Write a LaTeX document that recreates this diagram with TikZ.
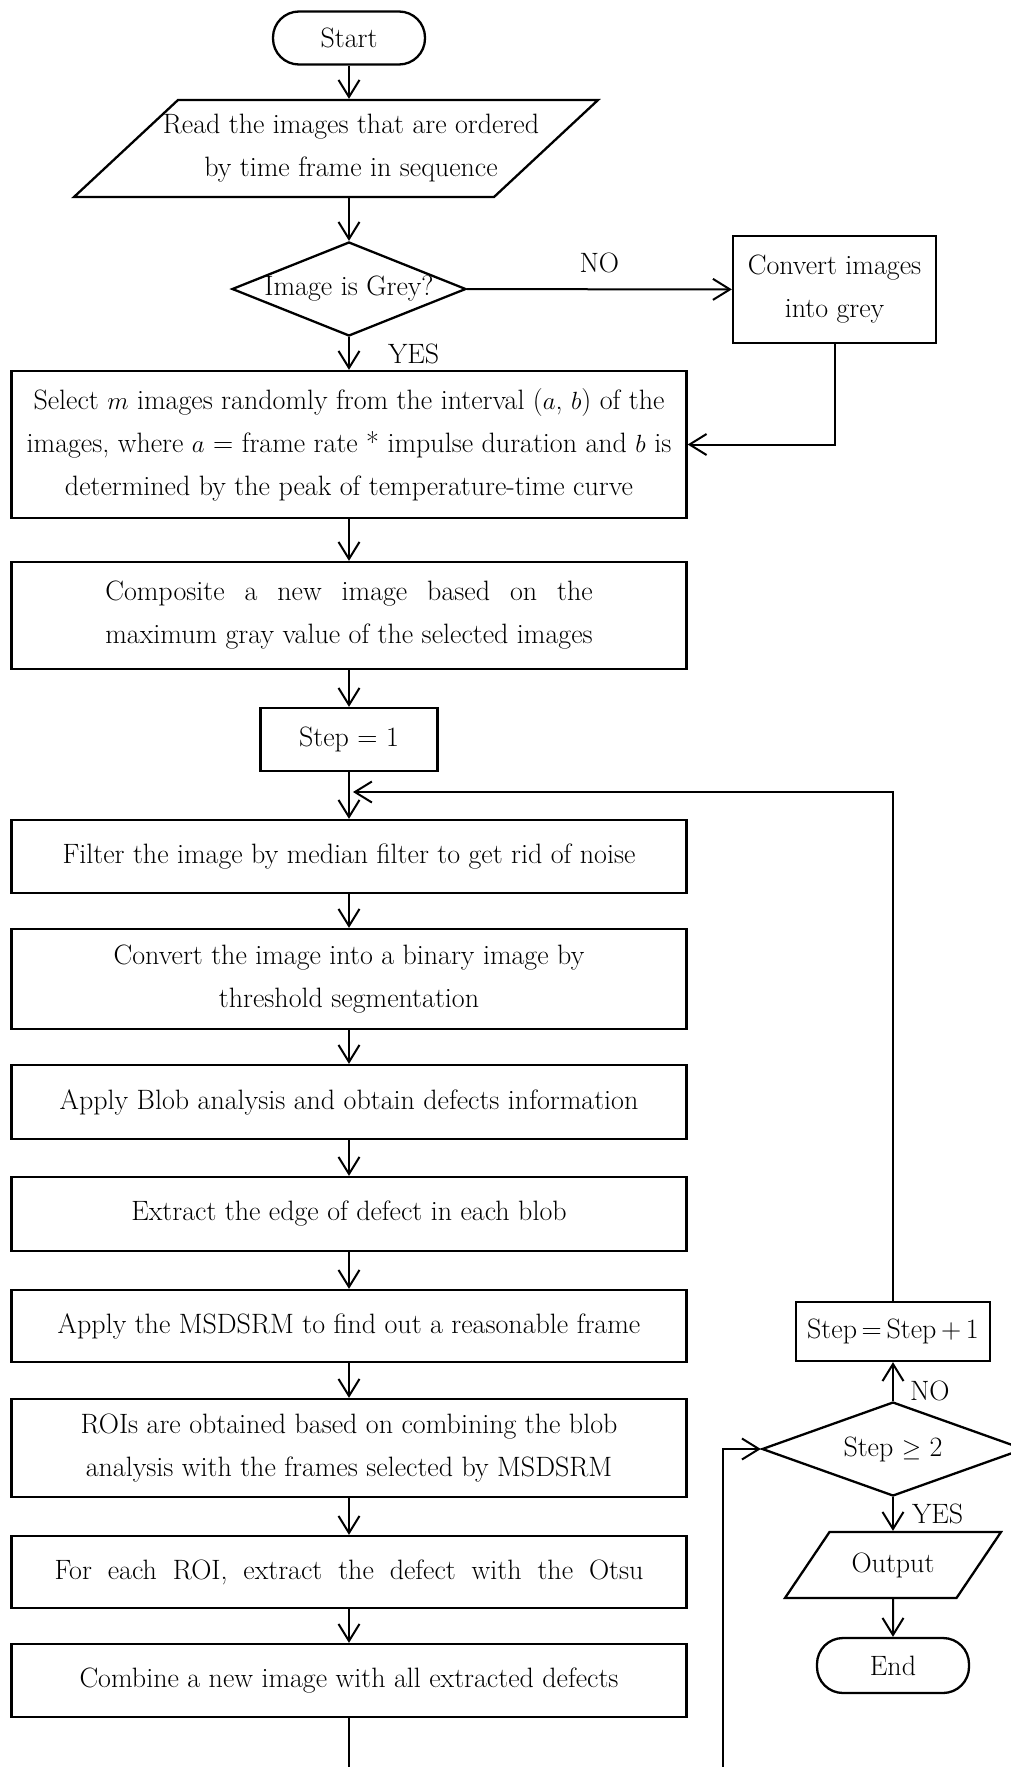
\documentclass[tikz,border=0pt]{standalone}
\usepackage{amsmath,amssymb}
\usetikzlibrary{arrows.meta,shapes.geometric,positioning}
\newcommand{\chartfont}{\fontsize{28}{43}\selectfont}
\newcommand{\iotext}[3]{\parbox[c][#1][c]{#2}{\centering #3}}
\newlength{\linewd}
\tikzset{
  flow/.style={-{Straight Barb[length=17pt,width=21pt]}, line width=2pt},
  procbox/.style={draw=black, line width=2.3pt, minimum width=675pt,
                  inner sep=0pt, align=center, font=\chartfont},
  smallbox/.style={procbox, minimum width=177pt},
  iobox/.style={draw=black, line width=2.3pt, trapezium,
                trapezium stretches body, inner sep=0pt, font=\chartfont},
  decision/.style={draw=black, line width=2.3pt, diamond,
                   inner sep=0pt, align=center, font=\chartfont},
  terminal/.style={draw=black, line width=2.3pt, rounded corners=26pt,
                   minimum width=152pt, inner sep=0pt, font=\chartfont},
  lab/.style={font=\chartfont, inner sep=0pt},
}

\begin{document}
\begin{tikzpicture}[x=1pt,y=-1pt]
  \path[use as bounding box] (0,0) rectangle (1011,1767);

  % Main column.
  \node[terminal, minimum height=53pt] (start) at (349,38) {Start};
  \node[iobox, trapezium left angle=43, trapezium right angle=137] (read) at (336,148.5)
    {\iotext{97pt}{316pt}{\makebox[316pt]{\hspace{30pt}Read the images that are ordered}\\
                          \makebox[316pt]{\hspace{30pt}by time frame in sequence}}};
  \node[decision, shape aspect=2.5, minimum width=234pt, minimum height=94pt]
    (grey) at (349,289) {Image is Grey?};
  \node[procbox, minimum width=203pt, minimum height=107pt] (convert) at (834.5,289.5)
    {Convert images\\into grey};
  \node[procbox, minimum height=147pt] (select) at (349,444.5)
    {Select $m$ images randomly from the interval ($a$, $b$) of the\\
     images, where $a$ = frame rate * impulse duration and $b$ is\\
     determined by the peak of temperature-time curve};
  \node[procbox, minimum height=107pt] (compose) at (349,615.5)
    {\settowidth{\linewd}{maximum gray value of the selected images}%
     \makebox[\linewd][s]{Composite a new image based on the}\\
     maximum gray value of the selected images};
  \node[smallbox, minimum height=63pt] (init) at (349,739.5) {Step = 1};
  \node[procbox, minimum height=73pt] (median) at (349,856.5)
    {Filter the image by median filter to get rid of noise};
  \node[procbox, minimum height=100pt] (binary) at (349,979)
    {Convert the image into a binary image by\\threshold segmentation};
  \node[procbox, minimum height=74pt] (blob) at (349,1102)
    {Apply Blob analysis and obtain defects information};
  \node[procbox, minimum height=74pt] (edge) at (349,1214)
    {Extract the edge of defect in each blob};
  \node[procbox, minimum height=72pt] (msdsrm) at (349,1326)
    {Apply the MSDSRM to find out a reasonable frame};
  \node[procbox, minimum height=98pt] (roi) at (349,1448)
    {ROIs are obtained based on combining the blob\\
     analysis with the frames selected by MSDSRM};
  \node[procbox, minimum height=72pt] (otsu) at (349,1572)
    {\makebox[589pt][s]{For each ROI, extract the defect with the Otsu}};
  \node[procbox, minimum height=73pt] (combine) at (349,1680.5)
    {Combine a new image with all extracted defects};

  % Loop column.
  \node[smallbox, minimum width=194pt, minimum height=59pt] (increment) at (893,1331.5)
    {Step\,=\,Step\,+\,1};
  \node[decision, shape aspect=2.8, minimum width=262pt, minimum height=94pt]
    (check) at (893,1449) {Step $\geq$ 2};
  \node[iobox, trapezium left angle=56, trapezium right angle=124] (output) at (893,1565)
    {\iotext{66pt}{127pt}{Output}};
  \node[terminal, minimum height=55pt] (finish) at (893,1665.5) {End};

  \coordinate (join) at (353,792);
  \coordinate (below) at (723,1800);

  \draw[flow] (start) -- (start |- read.north);
  \draw[flow] (read.south -| grey.north) -- (grey);
  \draw[flow] (grey) -- (convert) node[lab, midway, above=15pt] {NO};
  \draw[flow] (grey) -- (select) node[lab, midway, right=38pt] {YES};
  \draw[flow] (convert) |- (select.east);
  \foreach \a/\b in {select/compose, compose/init, init/median, median/binary,
                     binary/blob, blob/edge, edge/msdsrm, msdsrm/roi,
                     roi/otsu, otsu/combine}
    \draw[flow] (\a) -- (\b);
  \draw[flow] (combine) |- (below) |- (check);
  \draw[flow] (check) -- (increment) node[lab, pos=0.25, right=16pt] {NO};
  \draw[flow] (increment) |- (join);
  \draw[flow] (check) -- (output) node[lab, midway, right=18pt] {YES};
  \draw[flow] (output) -- (finish);
\end{tikzpicture}
\end{document}
